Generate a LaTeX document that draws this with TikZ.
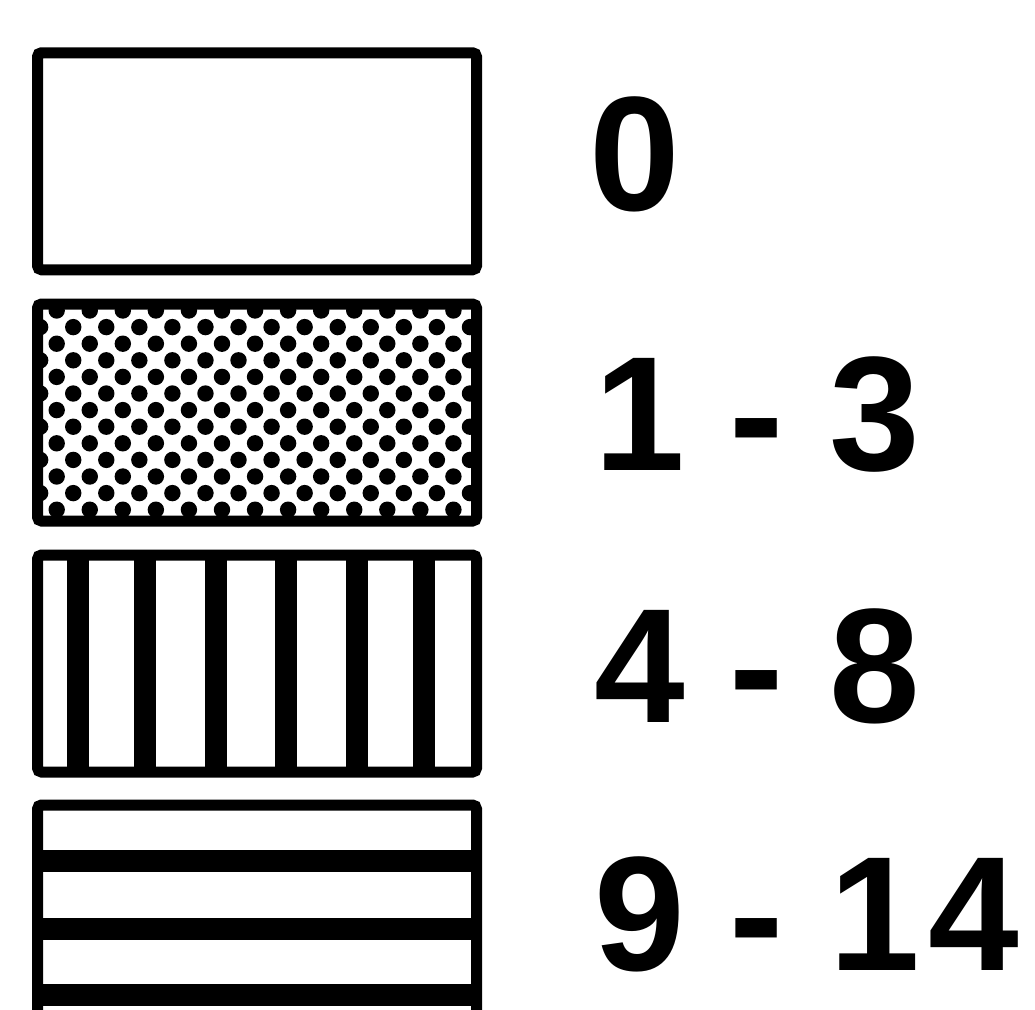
\documentclass[tikz,border=0pt]{standalone}
\usepackage{fontspec}
\setmainfont{Liberation Sans}
\usetikzlibrary{calc}
\tikzset{
  legbox/.style={draw=black, line width=11pt, rounded corners=4pt, fill=white,
    rectangle, minimum width=439pt, minimum height=217pt, inner sep=0pt, outer sep=0pt},
  leglabel/.style={anchor=base west, inner sep=0pt, outer sep=0pt,
    font=\fontsize{163}{163}\selectfont\bfseries},
  stripe/.style={fill=black},
  dot/.style={fill=black}
}
\begin{document}
\begin{tikzpicture}[x=1pt,y=-1pt]
\useasboundingbox[fill=white] (0,0) rectangle (1035,1009);
\clip (0,0) rectangle (1035,1009);

% boxes
\node[legbox] (b1) at (257,161.25) {};
\node[legbox] (b2) at (257,412.5) {};
\node[legbox] (b3) at (257,663.5) {};
\node[legbox] (b4) at (257,913.5) {};

% dotted pattern
\begin{scope}
  \clip ($(b2.south west)+(5.5,-5.5)$) rectangle ($(b2.north east)+(-5.5,5.5)$);
  \foreach \j in {0,...,12}{
    \foreach \m in {-1,...,13}{
      \fill[dot] ({56.7+16.53*mod(\j,2)+33.06*\m},{310.5+16.6*\j}) circle (8.2pt);
    }
  }
\end{scope}

% vertical stripes
\begin{scope}
  \clip ($(b3.south west)+(5.5,-5.5)$) rectangle ($(b3.north east)+(-5.5,5.5)$);
  \foreach \x in {77.5,145,216,286,357,423.5}{
    \fill[stripe] (\x-11,540) rectangle (\x+11,790);
  }
\end{scope}

% horizontal stripes
\begin{scope}
  \clip ($(b4.south west)+(5.5,-5.5)$) rectangle ($(b4.north east)+(-5.5,5.5)$);
  \foreach \y in {860.5,929,995,1062}{
    \fill[stripe] (20,\y-11) rectangle (500,\y+11);
  }
\end{scope}

% labels
\node[leglabel] (l1) at (589,210) {0};
\node[leglabel] (l2) at (594,470) {1 - 3};
\node[leglabel] (l3) at (594,722) {4 - 8};
\node[leglabel] (l4) at (594,970) {9 - 1\kern9pt4};
\end{tikzpicture}
\end{document}
